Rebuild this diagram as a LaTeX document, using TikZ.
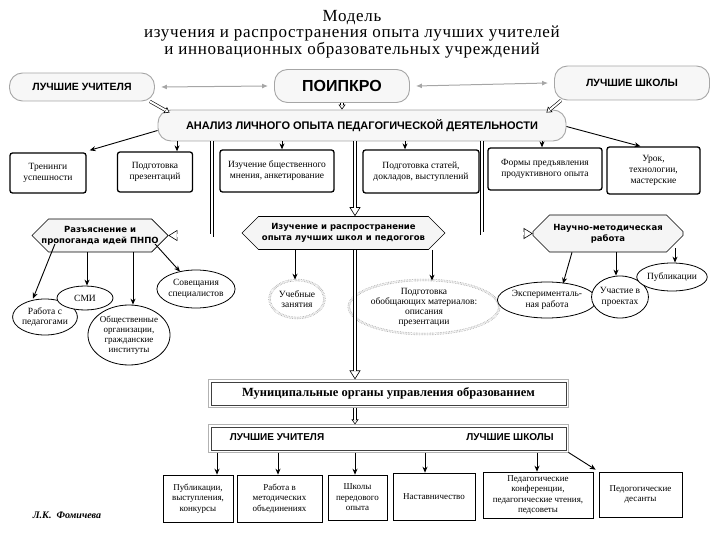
\documentclass[tikz,border=0pt]{standalone}
\usepackage{fontspec}
\setmainfont{Liberation Serif}
\newfontfamily\titlefont[LetterSpace=4]{Liberation Serif}
\newfontfamily\hsans{Liberation Sans}
\newfontfamily\hexfont{DejaVu Sans}
\usetikzlibrary{arrows.meta,shapes.geometric,shapes.misc,calc}
\begin{document}
\begin{tikzpicture}[x=1pt,y=-1pt,
  every node/.style={inner sep=0pt, align=center},
  pill/.style={draw=gray!70, line width=0.9pt, fill=gray!6, rounded corners=13pt},
  card/.style={draw=black, line width=1.3pt, rounded corners=2.5pt, fill=white, font=\fontsize{9.5}{11}\selectfont},
  octa/.style={chamfered rectangle, chamfered rectangle xsep=11pt, chamfered rectangle ysep=7pt, draw=black, line width=0.6pt, fill=gray!8, font=\hexfont\bfseries\fontsize{8.5}{11}\selectfont},
  oval/.style={ellipse, draw=black, line width=0.8pt, fill=white, font=\fontsize{9.5}{10.5}\selectfont},
  dotoval/.style={ellipse, draw=gray!80, line width=0.6pt, double=white, double distance=1.2pt, densely dotted, fill=white, font=\fontsize{9.5}{10.5}\selectfont},
  munbox/.style={draw=black!75, line width=0.8pt, fill=white},
  munouter/.style={draw=gray!60, line width=0.8pt},
  leaf/.style={draw=black, line width=0.6pt, fill=white, font=\fontsize{9}{10.5}\selectfont},
  arr/.style={-{Stealth[length=6pt,width=5pt]}, line width=0.9pt},
  garr/.style={{Latex[length=6pt,width=5pt]}-{Latex[length=6pt,width=5pt]}, draw=gray!70, line width=1pt},
  hollow/.style={line width=0.6pt, -{Triangle[open,length=9pt,width=11pt,fill=white]},
    postaction={draw, arrows=-, double=white, double distance=2.6pt, line width=0.6pt, shorten >=8.6pt}},
  hollowsmall/.style={line width=0.6pt, -{Triangle[open,length=5pt,width=7pt,fill=white]},
    postaction={draw, arrows=-, double=white, double distance=2pt, line width=0.6pt, shorten >=4.6pt}},
]
\useasboundingbox (0,0) rectangle (720,540);

% title
\node[anchor=north, font=\titlefont\fontsize{17}{13.5}\selectfont] (title) at (352,10)
  {Модель\\изучения и распространения опыта лучших учителей\\и инновационных образовательных учреждений};

% top row
\node[pill, minimum width=145, minimum height=28, font=\hsans\bfseries\fontsize{10.5}{12}\selectfont] (lu) at (82,87) {ЛУЧШИЕ УЧИТЕЛЯ};
\node[pill, minimum width=135, minimum height=33, font=\hsans\bfseries\fontsize{16}{18}\selectfont] (poi) at (342,86) {ПОИПКРО};
\node[pill, minimum width=155, minimum height=34, font=\hsans\bfseries\fontsize{10.5}{12}\selectfont] (ls) at (632,83) {ЛУЧШИЕ ШКОЛЫ};
\node[pill, minimum width=408, minimum height=31, font=\hsans\bfseries\fontsize{11}{13}\selectfont] (anal) at (362,125.5) {АНАЛИЗ ЛИЧНОГО ОПЫТА ПЕДАГОГИЧЕСКОЙ ДЕЯТЕЛЬНОСТИ};

\draw[garr] ([xshift=6pt]lu.east) -- ([xshift=-6pt]poi.west);
\draw[garr] ([xshift=6pt]poi.east) -- ([xshift=-6pt]ls.west);
\draw[hollowsmall] ([xshift=-5pt]lu.south east) -- ([xshift=12pt,yshift=-3pt]anal.north west);
\draw[hollowsmall] (poi.south) -- (poi.south |- anal.north);
\draw[hollowsmall] ([xshift=7pt]ls.south west) -- ([xshift=-20pt,yshift=-3pt]anal.north east);

% second row
\node[card, minimum width=76, minimum height=40] (r1) at (48,173) {Тренинги\\успешности};
\node[card, minimum width=75, minimum height=40] (r2) at (155,172) {Подготовка\\презентаций};
\node[card, minimum width=114, minimum height=42] (r3) at (277,171) {Изучение бщественного\\мнения, анкетирование};
\node[card, minimum width=116, minimum height=43] (r4) at (421,171.5) {Подготовка статей,\\докладов, выступлений};
\node[card, minimum width=114, minimum height=42] (r5) at (545,169) {Формы предъявления\\продуктивного опыта};
\node[card, minimum width=93, minimum height=47] (r6) at (653.5,170.5) {Урок,\\технологии,\\мастерские};

\coordinate (x2) at (177,0);
\coordinate (x3) at (282,0);
\coordinate (x4) at (405,0);
\coordinate (x5) at (542,0);
\draw[arr] ([yshift=-5pt]anal.west) -- ([xshift=3pt,yshift=2pt]r1.north east);
\draw[arr] (anal.south -| x2) -- (r2.north -| x2);
\draw[arr] (anal.south -| x3) -- (r3.north -| x3);
\draw[arr] (anal.south -| x4) -- (r4.north -| x4);
\draw[arr] (anal.south -| x5) -- (r5.north -| x5);
\draw[arr] ([yshift=-1pt]anal.east) -- ([xshift=-13pt]r6.north);

% third row
\node[octa, minimum width=136, minimum height=27] (h1) at (100,235.5) {Разъяснение и\\пропоганда идей ПНПО};
\node[octa, minimum width=203, minimum height=32] (h2) at (343.5,233) {Изучение и распространение\\опыта лучших школ и педогогов};
\node[octa, minimum width=150, minimum height=37] (h3) at (608,233.5) {Научно-методическая\\работа};

\coordinate (c1) at (212,0);
\coordinate (c2) at (355,0);
\coordinate (c3) at (482,0);
\draw[hollow] (anal.south -| c1) |- (h1.east);
\draw[hollow] (anal.south -| c2) -- (h2.north -| c2);
\draw[hollow] (anal.south -| c3) |- (h3.west);

% ellipses
\node[oval, minimum width=64, minimum height=36] (e1) at (45,317) {Работа с\\педагогами};
\node[oval, minimum width=56, minimum height=24] (e2) at (85,298) {СМИ};
\node[oval, minimum width=78, minimum height=60, font=\fontsize{9}{10}\selectfont] (e3) at (129,335) {Общественные\\организации,\\гражданские\\институты};
\node[oval, minimum width=72, minimum height=38] (e4) at (196,289) {Совещания\\специалистов};
\node[dotoval, minimum width=55, minimum height=38] (e5) at (297,299) {Учебные\\занятия};
\node[dotoval, minimum width=132, minimum height=52, font=\fontsize{9.5}{10}\selectfont] (e6) at (424,307) {Подготовка\\обобщающих материалов:\\описания\\презентации};
\node[oval, minimum width=86, minimum height=36] (e7) at (547,300) {Эксперименталь-\\ная работа};
\node[oval, minimum width=50, minimum height=42] (e8) at (620,297) {Участие в\\проектах};
\node[oval, minimum width=60, minimum height=28] (e9) at (672,277) {Публикации};

\coordinate (y2) at (87,0);
\coordinate (y3) at (133,0);
\coordinate (y5) at (295,0);
\coordinate (y6) at (432,0);
\coordinate (y8) at (616,0);
\coordinate (y9) at (675,0);
\draw[arr] ([xshift=15pt]h1.south west) -- ([xshift=-12pt]e1.north);
\draw[arr] (h1.south -| y2) -- (e2.north -| y2);
\draw[arr] (h1.south -| y3) -- (e3.north -| y3);
\draw[arr] ([xshift=-5pt]h1.south east) -- ([xshift=-16pt,yshift=-2pt]e4.north);
\draw[arr] (h2.south -| y5) -- (e5.north -| y5);
\draw[arr] (h2.south -| y6) -- ([yshift=-1pt]e6.north -| y6);
\draw[arr] ([xshift=-36pt]h3.south) -- ([xshift=16pt,yshift=-2pt]e7.north);
\draw[arr] (h3.south -| y8) -- (e8.north -| y8);
\draw[arr] ([yshift=4pt]h3.south -| y9) -- (e9.north -| y9);

% municipal
\node[munbox, minimum width=355, minimum height=23, font=\bfseries\fontsize{12.5}{14}\selectfont] (mun) at (388.5,393.5) {Муниципальные органы управления образованием};
\draw[munouter] ([shift={(-2.2pt,2.2pt)}]mun.north west) rectangle ([shift={(2.2pt,-2.2pt)}]mun.south east);
\node[munbox, minimum width=355, minimum height=23] (best) at (388.5,438.5) {};
\draw[munouter] ([shift={(-2.2pt,2.2pt)}]best.north west) rectangle ([shift={(2.2pt,-2.2pt)}]best.south east);
\node[font=\hsans\bfseries\fontsize{10}{12}\selectfont] (bestL) at (277,437) {ЛУЧШИЕ УЧИТЕЛЯ};
\node[font=\hsans\bfseries\fontsize{10}{12}\selectfont] (bestR) at (510,437) {ЛУЧШИЕ ШКОЛЫ};

\draw[hollow] (h2.south -| c2) -- ([yshift=2.2pt]mun.north -| c2);
\draw[hollowsmall] ([yshift=-2.2pt]mun.south -| c2) -- ([yshift=2.2pt]best.north -| c2);

% bottom row
\node[leaf, minimum width=70, minimum height=47] (b1) at (198,498.5) {Публикации,\\выступления,\\конкурсы};
\node[leaf, minimum width=85, minimum height=47] (b2) at (279.5,498.5) {Работа в\\методических\\объединениях};
\node[leaf, minimum width=59, minimum height=45] (b3) at (357.5,497.5) {Школы\\передового\\опыта};
\node[leaf, minimum width=82, minimum height=47] (b4) at (434,496.5) {Наставничество};
\node[leaf, minimum width=110, minimum height=46] (b5) at (538,495) {Педагогические\\конференции,\\педагогические чтения,\\педсоветы};
\node[leaf, minimum width=83, minimum height=45] (b6) at (640.5,494.5) {Педогогические\\десанты};

\coordinate (z1) at (217,0);
\coordinate (z2) at (278,0);
\coordinate (z3) at (355,0);
\coordinate (z4) at (425,0);
\coordinate (z5) at (537,0);
\draw[arr] ([yshift=-2.2pt]best.south -| z1) -- (b1.north -| z1);
\draw[arr] ([yshift=-2.2pt]best.south -| z2) -- (b2.north -| z2);
\draw[arr] ([yshift=-2.2pt]best.south -| z3) -- (b3.north -| z3);
\draw[arr] ([yshift=-2.2pt]best.south -| z4) -- (b4.north -| z4);
\draw[arr] ([yshift=-2.2pt]best.south -| z5) -- (b5.north -| z5);
\draw[arr] ([xshift=2pt,yshift=-2pt]best.south east) -- ([xshift=-3pt,yshift=2pt]b6.north west);

\node[font=\bfseries\itshape\fontsize{10}{12}\selectfont] (auth) at (67,515) {Л.К.~~Фомичева};
\end{tikzpicture}
\end{document}
